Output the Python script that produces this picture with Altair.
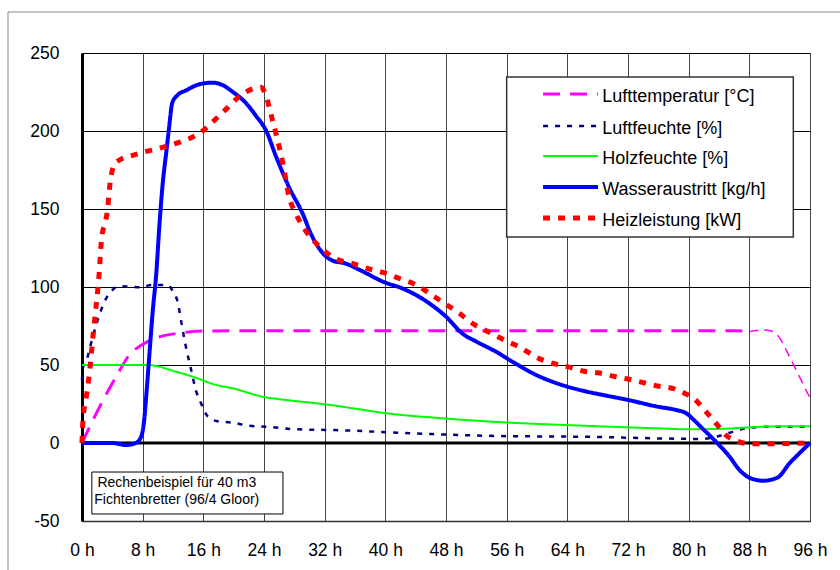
import altair as alt
import pandas as pd

FONT = "Liberation Sans, Arial, sans-serif"

series_names = ["Lufttemperatur [°C]", "Luftfeuchte [%]", "Holzfeuchte [%]",
                "Wasseraustritt [kg/h]", "Heizleistung [kW]"]
colors = ["#ff00ff", "#000080", "#00ff00", "#0000ff", "#ff0000"]
dashes = [[17, 10], [5, 7], [1, 0], [1, 0], [7, 8]]
widths = [3, 2.5, 2, 4, 5]

# Lufttemperatur [°C]
temp_h = [0, 2.3, 4.5, 6.5, 7.6, 8.65, 10.2, 13.3, 15.9, 30, 50, 70, 86.2, 88.0]
temp_v = [0, 23, 42.5, 58, 62, 65, 68, 70.7, 71.8, 72, 72, 72, 72, 71.4]
# tail of the temperature curve (thin dashes)
temp_tail_h = [88.0, 89.8, 90.9, 91.7, 93.3, 94.6, 95.8, 96.0]
temp_tail_v = [71.4, 72.4, 71.8, 69.2, 55.3, 42.5, 30.8, 29]

# Luftfeuchte [%]
rh_h = [0, 0.1, 0.6, 1.2, 1.8, 2.5, 3.2, 4.0, 4.9, 7.6, 9.3, 11.3, 11.9, 12.6, 13.2,
        13.7, 14.4, 15.0, 15.7, 16.6, 17.7, 19.9, 22.1, 24.3, 28.2, 33.3, 43.6, 54.6,
        66.0, 81.8, 83.6, 85.4, 87.1, 90.2, 96.0]
rh_v = [40, 48, 53, 64, 74.6, 85, 92.8, 98, 100.6, 99.8, 101.3, 101.3, 98, 90.6, 74.6,
        61.7, 46.8, 34, 25.4, 16.9, 14.1, 13, 11, 10.4, 8.8, 8.3, 6.2, 4.5,
        4, 2.6, 4, 6.6, 9, 10.4, 10.5]

# Holzfeuchte [%]
wood_h = [0, 8.65, 12.4, 14.6, 17.7, 19.9, 23.8, 27.8, 32.4, 36.6, 39.6, 47.6, 55.9,
          65.5, 75.9, 79.9, 83.8, 88.0, 92.0, 96.0]
wood_v = [50, 50, 45.7, 42.5, 37.2, 35, 29.7, 27.1, 24.6, 21.6, 19.4, 15.8, 13.2,
          11.2, 9.4, 8.8, 9, 10, 10.7, 10.7]

# Wasseraustritt [kg/h]
water_h = [0, 4.0, 5.8, 7.1, 7.8, 8.2, 8.5, 8.9, 9.3, 9.8, 10.2, 10.6, 11.2, 11.5, 11.9,
           12.6, 13.7, 15.5, 17.2, 18.5, 19.9, 21.6, 22.9, 24.3, 25.6, 27.3, 29.1, 30.2,
           31.7, 33.0, 34.8, 36.6, 39.9, 42.3, 45.8, 48.0, 50.2, 52.0, 54.6, 56.8, 59.9,
           63.4, 66.5, 69.0, 72.0, 75.9, 78.3, 79.7, 80.7, 81.8, 83.6, 85.4, 86.7, 88.0,
           89.8, 91.7, 93.3, 94.6, 96.0]
water_v = [0, 0, -1.3, 0, 4, 14.7, 32, 57.5, 83, 109, 139, 164, 190, 203, 218,
           223, 226, 230, 231, 229.5, 225, 218, 210, 200, 183.5, 164, 147, 134,
           122, 117, 115, 111, 103, 99, 89.5, 81, 70, 65, 58.5, 52, 43.6,
           37, 33, 30.5, 27.6, 23.3, 21.2, 19, 14.7, 9.4, 0.8, -8.8, -17.3, -22.2,
           -24.2, -22.2, -13, -6.6, 0]

# Heizleistung [kW]
heat_h = [0, 0.1, 0.6, 0.9, 1.5, 2.3, 2.6, 3.1, 3.4, 3.6, 4.0, 4.5, 7.1, 10.2, 12.4,
          15.9, 17.7, 19.0, 20.7, 22.5, 23.6, 24.3, 24.9, 25.6, 26.5, 27.3, 28.2, 29.5,
          31.3, 33.5, 35.7, 38.3, 39.9, 42.1, 43.8, 45.8, 47.8, 49.8, 51.7, 53.7, 55.7,
          57.9, 59.9, 62.1, 64.0, 66.2, 68.0, 70.4, 72.0, 74.6, 75.9, 77.9, 79.4, 80.7,
          82.3, 83.8, 84.9, 86.0, 88.0, 90.0, 96.0]
heat_v = [0, 12.6, 30.8, 41.5, 71, 111, 132, 142, 151, 162, 175, 180, 185, 189, 192,
          200, 208, 214, 222, 227, 228, 222, 211, 198, 179, 158, 147, 136,
          126, 118, 115, 111, 109, 105, 102, 96, 89.5, 83, 76, 71, 66,
          61, 55, 51, 49, 46, 45, 42.5, 41, 38, 36.5, 35, 32, 28.5,
          20, 11.5, 5, 2, -0.5, -0.5, 0]

x_ticks = list(range(0, 97, 4))
y_ticks = [-50, 0, 50, 100, 150, 200, 250]

note_lines = ["Rechenbeispiel für 40 m3", "Fichtenbretter (96/4 Gloor)"]

# legend layout, in the chart's own axis units
LEG_SYM_H = (60.8, 68.05)
LEG_TEXT_H = 68.6
LEG_ROWS_V = [223.7, 203.2, 184.0, 164.1, 144.2]
LEG_BOX = (56.0, 93.8, 234.6, 132.0)
NOTE_BOX = (1.3, 26.5, -18.6, -45.5)

rows = []
for name, hs, vs in zip(series_names,
                        [temp_h, rh_h, wood_h, water_h, heat_h],
                        [temp_v, rh_v, wood_v, water_v, heat_v]):
    for i, (h, v) in enumerate(zip(hs, vs)):
        rows.append({"series": name, "h": h, "v": v, "i": i})
df = pd.DataFrame(rows)
tail_df = pd.DataFrame({"h": temp_tail_h, "v": temp_tail_v, "i": range(len(temp_tail_h))})
leg_df = pd.DataFrame({"series": series_names, "h": LEG_SYM_H[0], "h2": LEG_SYM_H[1],
                       "ht": LEG_TEXT_H, "v": LEG_ROWS_V,
                       "vt": [v - 1.9 for v in LEG_ROWS_V]})

xscale = alt.Scale(domain=[0, 96], nice=False, zero=False)
yscale = alt.Scale(domain=[-50, 250], nice=False, zero=False)
cscale = alt.Scale(domain=series_names, range=colors)
dscale = alt.Scale(domain=series_names, range=dashes)
wscale = alt.Scale(type="ordinal", domain=series_names, range=widths)

xaxis = alt.Axis(values=x_ticks, title=None, grid=True, gridColor="#444444", gridWidth=1,
                 ticks=False, labelFontSize=17.5, labelFont=FONT, labelColor="black",
                 labelPadding=20, labelFlush=False,
                 labelExpr="datum.value % 8 == 0 ? datum.value + ' h' : ''",
                 domainColor="#333333", domainWidth=1.5)
yaxis = alt.Axis(values=y_ticks, title=None, grid=True, gridColor="black", gridWidth=1,
                 ticks=False, labelFontSize=17.5, labelFont=FONT, labelColor="black",
                 labelPadding=23, labelExpr="'' + datum.value",
                 domainColor="black", domainWidth=3)

X = alt.X("h:Q", scale=xscale, axis=xaxis)
Y = alt.Y("v:Q", scale=yscale, axis=yaxis)

def style_enc():
    return dict(
        color=alt.Color("series:N", scale=cscale, legend=None),
        strokeDash=alt.StrokeDash("series:N", scale=dscale, legend=None),
        strokeWidth=alt.StrokeWidth("series:N", scale=wscale, legend=None),
    )

# outer frame (decoration)
frame = alt.Chart(pd.DataFrame({"a": [0]})).mark_rect(
    fillOpacity=0, stroke="#888888", strokeWidth=1
).encode(x=alt.value(-74), x2=alt.value(900), y=alt.value(-41), y2=alt.value(800))

grid_base = alt.Chart(pd.DataFrame({"h": [0], "v": [0]})).mark_point(opacity=0).encode(x=X, y=Y)

zero = alt.Chart(pd.DataFrame({"h": [0], "h2": [96], "v": [0]})).mark_rule(
    color="black", strokeWidth=3
).encode(x=alt.X("h:Q", scale=xscale), x2="h2:Q", y=alt.Y("v:Q", scale=yscale))

lines = []
for name in series_names:
    lines.append(
        alt.Chart(df).transform_filter(alt.datum.series == name)
        .mark_line(interpolate="monotone", strokeCap="butt")
        .encode(x=alt.X("h:Q", scale=xscale), y=alt.Y("v:Q", scale=yscale),
                order="i:Q", **style_enc())
    )

tail = alt.Chart(tail_df).mark_line(
    interpolate="monotone", color="#ff00ff", strokeWidth=1.5, strokeDash=[9, 6]
).encode(x=alt.X("h:Q", scale=xscale), y=alt.Y("v:Q", scale=yscale), order="i:Q")

legend_box = alt.Chart(pd.DataFrame({"h": [LEG_BOX[0]], "h2": [LEG_BOX[1]],
                                     "v": [LEG_BOX[2]], "v2": [LEG_BOX[3]]})).mark_rect(
    fill="white", stroke="#333333", strokeWidth=1.5
).encode(x=alt.X("h:Q", scale=xscale), x2="h2:Q", y=alt.Y("v:Q", scale=yscale), y2="v2:Q")

legend_sym = alt.Chart(leg_df).mark_rule(strokeCap="butt").encode(
    x=alt.X("h:Q", scale=xscale), x2="h2:Q", y=alt.Y("v:Q", scale=yscale), **style_enc()
)
legend_txt = alt.Chart(leg_df).mark_text(
    font=FONT, fontSize=18, color="black", align="left", baseline="middle"
).encode(x=alt.X("ht:Q", scale=xscale), y=alt.Y("vt:Q", scale=yscale), text="series:N")

note_box = alt.Chart(pd.DataFrame({"h": [NOTE_BOX[0]], "h2": [NOTE_BOX[1]],
                                   "v": [NOTE_BOX[2]], "v2": [NOTE_BOX[3]]})).mark_rect(
    fill="white", stroke="black", strokeWidth=1
).encode(x=alt.X("h:Q", scale=xscale), x2="h2:Q", y=alt.Y("v:Q", scale=yscale), y2="v2:Q")

note_text = alt.Chart(pd.DataFrame({"t": note_lines, "h": [12.5, 12.5], "v": [-25.6, -36.5]})).mark_text(
    font=FONT, fontSize=14, color="black", align="center", baseline="middle"
).encode(x=alt.X("h:Q", scale=xscale), y=alt.Y("v:Q", scale=yscale), text="t:N")

chart = alt.layer(
    frame, grid_base, zero, legend_box, legend_sym, legend_txt, note_box, note_text, tail, *lines
).properties(
    width=728, height=468,
    autosize=alt.AutoSizeParams(type="none"),
    padding={"left": 82, "top": 53, "right": 30, "bottom": 49},
    background="white",
).configure_view(stroke="black", strokeWidth=1)

chart.save("out.html", embed_options={"renderer": "svg", "actions": False})
